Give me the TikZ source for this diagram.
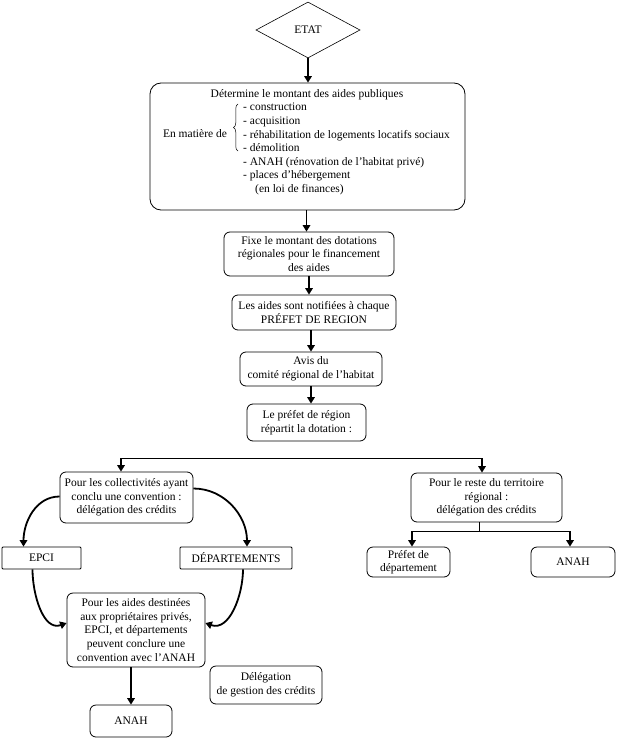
\documentclass[tikz,border=0pt]{standalone}
\usepackage{fontspec}
\setmainfont{Liberation Serif}
\usetikzlibrary{arrows.meta,positioning,shapes.geometric,calc,decorations.pathreplacing}
\tikzset{
  box/.style={draw, rounded corners=6pt, align=center, fill=white, inner sep=1pt, line width=0.8pt},
  bigbox/.style={draw, rounded corners=11pt, fill=white, line width=0.8pt},
  etatbox/.style={draw, diamond, aspect=1.85, inner sep=0pt, line width=0.6pt},
  txt/.style={inner sep=0pt, align=left},
  arrow/.style={-{Triangle[length=6.5pt, width=7.5pt]}, line width=1.8pt},
  thinline/.style={draw, line width=0.8pt},
  thickline/.style={draw, line width=1.8pt}
}
\begin{document}
\begin{tikzpicture}[x=1pt, y=-1pt, font=\fontsize{11.5}{13.6}\selectfont]
  \useasboundingbox (0,0) rectangle (616,744);

  \node[etatbox, minimum width=104pt, minimum height=56pt] (etat) at (308,30) {ETAT};

  % bloc principal
  \node[bigbox, minimum width=315pt, minimum height=127pt] (main) at (307.5,146.5) {};
  \node[txt] (titre) at (307,95) {Détermine le montant des aides publiques};
  \node[txt] (matiere) at (195,134) {En matière de};
  \node[txt, anchor=north west] (liste) at (243,103) {- construction\\- acquisition\\- réhabilitation de logements locatifs sociaux\\- démolition\\- ANAH (rénovation de l’habitat privé)\\- places d’hébergement\\\hspace*{12pt}(en loi de finances)};
  \draw[decorate, decoration={brace, amplitude=4.5pt}, line width=0.5pt] (238,151) -- (238,104);

  \node[box, minimum width=170pt, minimum height=44pt] (fixe) at (309,254) {Fixe le montant des dotations\\régionales pour le financement\\des aides};
  \node[box, minimum width=164pt, minimum height=35pt] (notif) at (314,312.5) {Les aides sont notifiées à chaque\\PRÉFET DE REGION};
  \node[box, minimum width=142pt, minimum height=34pt] (avis) at (311,369) {Avis du\\comité régional de l’habitat};
  \node[box, minimum width=119pt, minimum height=37pt] (prefet) at (306.5,422.5) {Le préfet de région\\répartit la dotation :};

  \node[box, minimum width=133pt, minimum height=51pt] (coll) at (126.5,497.5) {Pour les collectivités ayant\\conclu une convention :\\délégation des crédits};
  \node[box, minimum width=151pt, minimum height=49pt] (reste) at (486.5,497.5) {Pour le reste du territoire\\régional :\\délégation des crédits};

  \node[box, rounded corners=1pt, minimum width=79pt, minimum height=22pt] (epci) at (41.5,558) {EPCI};
  \node[box, rounded corners=1pt, minimum width=112pt, minimum height=22pt] (dept) at (236,558) {DÉPARTEMENTS};
  \node[box, minimum width=83pt, minimum height=30pt] (prefdep) at (408.5,562) {Préfet de\\département};
  \node[box, minimum width=84pt, minimum height=30pt] (anahr) at (573,562) {ANAH};

  \node[box, minimum width=138pt, minimum height=74pt] (prive) at (136,630) {Pour les aides destinées\\aux propriétaires privés,\\EPCI, et départements\\peuvent conclure une\\convention avec l’ANAH};
  \node[box, minimum width=82pt, minimum height=32pt] (anahb) at (131,721) {ANAH};
  \node[box, minimum width=112pt, minimum height=38pt] (deleg) at (266,685) {Délégation\\de gestion des crédits};

  % fleches verticales
  \draw[arrow] (etat.south) -- (etat.south |- main.north);
  \draw[arrow] ($(main.south)+(-1,0)$) -- ($(main.south |- fixe.north)+(-1,0)$);
  \draw[arrow] (fixe.south) -- (fixe.south |- notif.north);
  \draw[arrow] (avis.north |- notif.south) -- (avis.north);
  \draw[arrow] (avis.south) -- (avis.south |- prefet.north);

  % repartition
  \coordinate (gauche) at (121,458);
  \coordinate (droite) at (482,458);
  \draw[thinline] (gauche) -- (droite);
  \draw[arrow] (gauche) -- (gauche |- coll.north);
  \draw[arrow] (droite) -- (droite |- reste.north);

  \coordinate (rj) at (reste.south -| 479,0);
  \coordinate (rg) at (412,531);
  \coordinate (rd) at (570,531);
  \draw[thinline] (rj) -- (479,531);
  \draw[thinline] (rg) -- (rd);
  \draw[arrow] (rg) -- (rg |- prefdep.north);
  \draw[arrow] (rd) -- (rd |- anahr.north);

  % courbes
  \draw[arrow] ($(coll.west)+(0,-1)$) to[out=180, in=90] ($(epci.north)+(-18,0)$);
  \draw[arrow] ($(coll.east)+(0,-9)$) to[out=0, in=90] ($(dept.north)+(11,0)$);
  \draw[arrow] ($(epci.south)+(-9,0)$) to[out=-90, in=200] ($(prive.west)+(0,-7)$);
  \draw[arrow] ($(dept.south)+(7,0)$) to[out=-90, in=-20] ($(prive.east)+(0,-7)$);

  \draw[arrow] (anahb.north |- prive.south) -- (anahb.north);
\end{tikzpicture}
\end{document}
